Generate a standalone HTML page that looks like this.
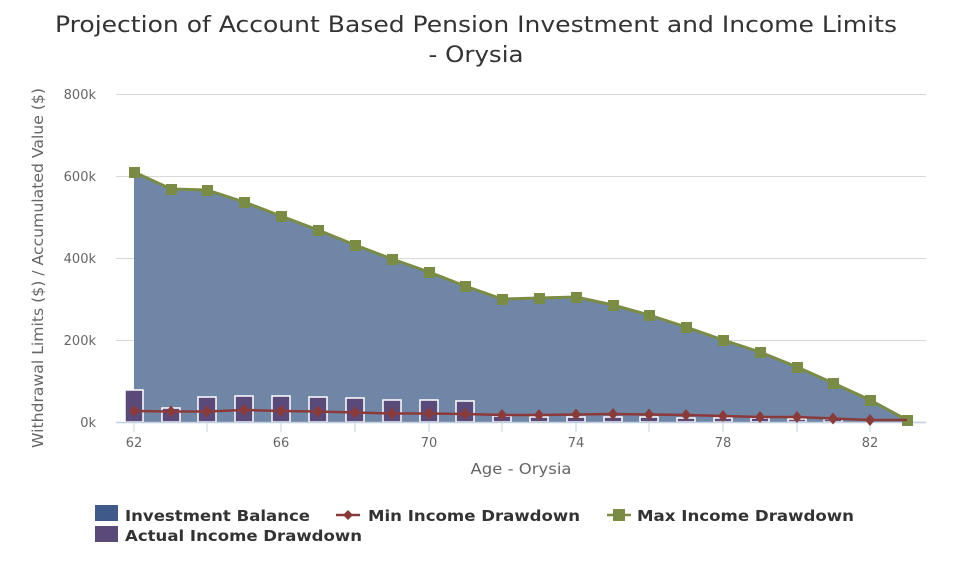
<!DOCTYPE html>
<html><head><meta charset="utf-8"><style>
body{margin:0;background:#fff;width:967px;height:561px;overflow:hidden;font-family:"DejaVu Sans","Liberation Sans",sans-serif}
</style></head><body>
<svg width="967" height="561" xmlns="http://www.w3.org/2000/svg" font-family="DejaVu Sans, Liberation Sans, sans-serif">
<text x="476" y="32" text-anchor="middle" font-size="22" fill="#333" textLength="842" lengthAdjust="spacingAndGlyphs">Projection of Account Based Pension Investment and Income Limits</text>
<text x="476" y="62" text-anchor="middle" font-size="22" fill="#333" textLength="95" lengthAdjust="spacingAndGlyphs">- Orysia</text>
<g stroke="#d8d8d8" stroke-width="1">
<line x1="116" x2="926" y1="94.5" y2="94.5"/><line x1="116" x2="926" y1="176.5" y2="176.5"/>
<line x1="116" x2="926" y1="258.5" y2="258.5"/><line x1="116" x2="926" y1="340.5" y2="340.5"/>
</g>
<g font-size="13" fill="#666" text-anchor="end">
<text x="96" y="99">800k</text><text x="96" y="181">600k</text><text x="96" y="263">400k</text><text x="96" y="345">200k</text><text x="96" y="427">0k</text>
</g>
<text transform="translate(43,268) rotate(-90)" text-anchor="middle" font-size="15" fill="#666" textLength="360" lengthAdjust="spacingAndGlyphs">Withdrawal Limits ($) / Accumulated Value ($)</text>
<polygon fill="#6f86a6" points="134,422 134,172 171,189 207,190 244,202 281,216 318,230 355,245 392,259 429,272 465,286 502,299 539,298 576,297 613,305 649,315 686,327 723,340 760,352 797,367 833,383 870,400 907,420 907,422"/>
<g fill="#5a4a7a" stroke="#fff" stroke-width="1.5">
<rect x="125" y="390" width="18" height="32"/><rect x="162" y="408" width="18" height="14"/>
<rect x="198" y="397" width="18" height="25"/><rect x="235" y="396" width="18" height="26"/>
<rect x="272" y="396" width="18" height="26"/><rect x="309" y="397" width="18" height="25"/>
<rect x="346" y="398" width="18" height="24"/><rect x="383" y="400" width="18" height="22"/>
<rect x="420" y="400" width="18" height="22"/><rect x="456" y="401" width="18" height="21"/>
<rect x="493" y="416" width="18" height="6"/><rect x="530" y="417" width="18" height="5"/>
<rect x="567" y="417" width="18" height="5"/><rect x="604" y="417" width="18" height="5"/>
<rect x="640" y="417" width="18" height="5"/><rect x="677" y="418" width="18" height="4"/>
<rect x="714" y="418" width="18" height="4"/><rect x="751" y="418" width="18" height="4"/>
<rect x="788" y="419" width="18" height="3"/><rect x="824" y="419" width="18" height="3"/>
</g>
<line x1="116" x2="926" y1="422.5" y2="422.5" stroke="#c0d0e0" stroke-width="1.5"/>
<g stroke="#c0d0e0"><line x1="134" x2="134" y1="422" y2="432"/><line x1="207" x2="207" y1="422" y2="432"/><line x1="281" x2="281" y1="422" y2="432"/><line x1="355" x2="355" y1="422" y2="432"/><line x1="429" x2="429" y1="422" y2="432"/><line x1="502" x2="502" y1="422" y2="432"/><line x1="576" x2="576" y1="422" y2="432"/><line x1="649" x2="649" y1="422" y2="432"/><line x1="723" x2="723" y1="422" y2="432"/><line x1="797" x2="797" y1="422" y2="432"/><line x1="870" x2="870" y1="422" y2="432"/></g>
<g font-size="13" fill="#666" text-anchor="middle">
<text x="134" y="447">62</text><text x="281" y="447">66</text><text x="429" y="447">70</text><text x="576" y="447">74</text><text x="723" y="447">78</text><text x="870" y="447">82</text>
</g>
<text x="521" y="474" text-anchor="middle" font-size="15" fill="#666" textLength="101" lengthAdjust="spacingAndGlyphs">Age - Orysia</text>
<polyline fill="none" stroke="#7a8c44" stroke-width="3" points="134,172 171,189 207,190 244,202 281,216 318,230 355,245 392,259 429,272 465,286 502,299 539,298 576,297 613,305 649,315 686,327 723,340 760,352 797,367 833,383 870,400 907,420"/>
<g fill="#7a8c44">
<rect x="129" y="167" width="11" height="11"/><rect x="166" y="184" width="11" height="11"/><rect x="202" y="185" width="11" height="11"/><rect x="239" y="197" width="11" height="11"/><rect x="276" y="211" width="11" height="11"/><rect x="313" y="225" width="11" height="11"/><rect x="350" y="240" width="11" height="11"/><rect x="387" y="254" width="11" height="11"/><rect x="424" y="267" width="11" height="11"/><rect x="460" y="281" width="11" height="11"/><rect x="497" y="294" width="11" height="11"/><rect x="534" y="293" width="11" height="11"/><rect x="571" y="292" width="11" height="11"/><rect x="608" y="300" width="11" height="11"/><rect x="644" y="310" width="11" height="11"/><rect x="681" y="322" width="11" height="11"/><rect x="718" y="335" width="11" height="11"/><rect x="755" y="347" width="11" height="11"/><rect x="792" y="362" width="11" height="11"/><rect x="828" y="378" width="11" height="11"/><rect x="865" y="395" width="11" height="11"/><rect x="902" y="415" width="11" height="11"/>
</g>
<polyline fill="none" stroke="#8b3a3a" stroke-width="2.5" points="134,411 171,411.5 207,411.5 244,410 281,411 318,411.5 355,412.5 392,413.5 429,413.5 465,414 502,415 539,415 576,414.5 613,414 649,414.5 686,415 723,416 760,417 797,417 833,418.5 870,420 907,420"/>
<g fill="#8b3a3a">
<path d="M134,405l5,6l-5,6l-5,-6z"/><path d="M171,405.5l5,6l-5,6l-5,-6z"/><path d="M207,405.5l5,6l-5,6l-5,-6z"/><path d="M244,404l5,6l-5,6l-5,-6z"/><path d="M281,405l5,6l-5,6l-5,-6z"/><path d="M318,405.5l5,6l-5,6l-5,-6z"/><path d="M355,406.5l5,6l-5,6l-5,-6z"/><path d="M392,407.5l5,6l-5,6l-5,-6z"/><path d="M429,407.5l5,6l-5,6l-5,-6z"/><path d="M465,408l5,6l-5,6l-5,-6z"/><path d="M502,409l5,6l-5,6l-5,-6z"/><path d="M539,409l5,6l-5,6l-5,-6z"/><path d="M576,408.5l5,6l-5,6l-5,-6z"/><path d="M613,408l5,6l-5,6l-5,-6z"/><path d="M649,408.5l5,6l-5,6l-5,-6z"/><path d="M686,409l5,6l-5,6l-5,-6z"/><path d="M723,410l5,6l-5,6l-5,-6z"/><path d="M760,411l5,6l-5,6l-5,-6z"/><path d="M797,411l5,6l-5,6l-5,-6z"/><path d="M833,412.5l5,6l-5,6l-5,-6z"/><path d="M870,414l5,6l-5,6l-5,-6z"/>
</g>
<g font-size="15" font-weight="bold" fill="#333" lengthAdjust="spacingAndGlyphs">
<rect x="95" y="505" width="23" height="16" fill="#3f5a8a"/><text x="125" y="521" textLength="185" lengthAdjust="spacingAndGlyphs">Investment Balance</text>
<line x1="336" x2="360" y1="515" y2="515" stroke="#8b3a3a" stroke-width="2.5"/><path d="M348,510l5,5l-5,5l-5,-5z" fill="#8b3a3a"/><text x="368" y="521" textLength="212" lengthAdjust="spacingAndGlyphs">Min Income Drawdown</text>
<line x1="607" x2="631" y1="515" y2="515" stroke="#7a8c44" stroke-width="2.5"/><rect x="613" y="509" width="12" height="12" fill="#7a8c44"/><text x="637" y="521" textLength="217" lengthAdjust="spacingAndGlyphs">Max Income Drawdown</text>
<rect x="95" y="526" width="23" height="16" fill="#5a4a7a"/><text x="125" y="541" textLength="237" lengthAdjust="spacingAndGlyphs">Actual Income Drawdown</text>
</g>
</svg>
</body></html>
